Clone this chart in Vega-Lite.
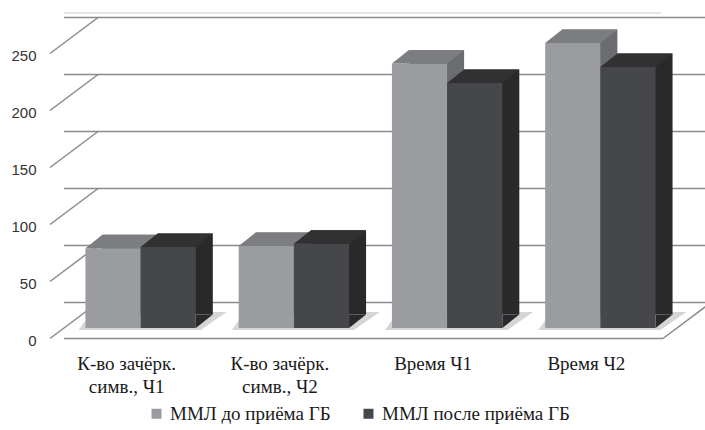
{
  "$schema": "https://vega.github.io/schema/vega-lite/v6.json",
  "width": 613,
  "height": 285,
  "autosize": "none",
  "padding": {"left": 64, "top": 43, "right": 28, "bottom": 102},
  "background": "white",
  "config": {
    "view": {"stroke": null},
    "axis": {"grid": false, "domain": false, "ticks": false, "title": null},
    "axisX": {
      "labelFont": "Times New Roman",
      "labelFontSize": 19,
      "labelColor": "#1a1a1a",
      "labelPadding": 26,
      "labelOffset": -14,
      "labelLineHeight": 23,
      "labelAngle": 0,
      "labelExpr": "split(datum.label, '\\n')"
    },
    "axisY": {
      "labelFont": "Liberation Sans",
      "labelFontSize": 15,
      "labelColor": "#333333",
      "labelPadding": 28,
      "labelOffset": 12
    },
    "legend": {
      "orient": "none",
      "legendX": 83,
      "legendY": 361,
      "direction": "horizontal",
      "title": null,
      "symbolType": "square",
      "symbolSize": 100,
      "symbolStrokeWidth": 0,
      "labelFont": "Liberation Serif",
      "labelFontSize": 19,
      "labelColor": "#1a1a1a",
      "labelLimit": 400,
      "columnPadding": 28
    }
  },
  "datasets": {
    "scores": [
      {"cat": "К-во зачёрк.\nсимв., Ч1", "series": "ММЛ до приёма ГБ", "value": 70},
      {"cat": "К-во зачёрк.\nсимв., Ч1", "series": "ММЛ после приёма ГБ", "value": 71},
      {"cat": "К-во зачёрк.\nсимв., Ч2", "series": "ММЛ до приёма ГБ", "value": 72},
      {"cat": "К-во зачёрк.\nсимв., Ч2", "series": "ММЛ после приёма ГБ", "value": 74},
      {"cat": "Время Ч1", "series": "ММЛ до приёма ГБ", "value": 232},
      {"cat": "Время Ч1", "series": "ММЛ после приёма ГБ", "value": 215},
      {"cat": "Время Ч2", "series": "ММЛ до приёма ГБ", "value": 250},
      {"cat": "Время Ч2", "series": "ММЛ после приёма ГБ", "value": 229}
    ],
    "ticks": [{"v": 0}, {"v": 50}, {"v": 100}, {"v": 150}, {"v": 200}, {"v": 250}]
  },
  "layer": [
    {
      "data": {"name": "ticks"},
      "mark": {"type": "rule", "color": "#8a8a8a", "strokeWidth": 1.5, "xOffset": 34, "x2Offset": 34, "yOffset": -25.5, "y2Offset": -25.5},
      "encoding": {
        "y": {"field": "v", "type": "quantitative", "scale": {"domain": [0, 250], "nice": false}, "title": null, "axis": {"values": [0, 50, 100, 150, 200, 250]}}
      }
    },
    {
      "data": {"name": "ticks"},
      "mark": {"type": "rule", "color": "#8a8a8a", "strokeWidth": 1.5, "xOffset": -14, "x2Offset": 34, "yOffset": 10.5, "y2Offset": -25.5},
      "encoding": {
        "x": {"value": 0},
        "x2": {"value": 0},
        "y": {"field": "v", "type": "quantitative", "scale": {"domain": [0, 250], "nice": false}, "title": null},
        "y2": {"field": "v"}
      }
    },
    {
      "data": {"name": "ticks"},
      "transform": [{"filter": "datum.v === 250"}],
      "mark": {"type": "rule", "color": "#dddddd", "strokeWidth": 1.5, "xOffset": -16, "x2Offset": 34, "yOffset": -30, "y2Offset": -30},
      "encoding": {
        "y": {"field": "v", "type": "quantitative", "scale": {"domain": [0, 250], "nice": false}, "title": null}
      }
    },
    {
      "data": {"name": "ticks"},
      "transform": [{"filter": "datum.v === 0"}],
      "mark": {"type": "rule", "color": "#8a8a8a", "strokeWidth": 1.5, "xOffset": -14, "x2Offset": -14, "yOffset": 10.5, "y2Offset": 10.5},
      "encoding": {
        "y": {"field": "v", "type": "quantitative", "scale": {"domain": [0, 250], "nice": false}, "title": null}
      }
    },
    {
      "data": {"name": "ticks"},
      "transform": [{"filter": "datum.v === 0"}],
      "mark": {"type": "rule", "color": "#8a8a8a", "strokeWidth": 1.5, "xOffset": -14, "x2Offset": 34, "yOffset": 10.5, "y2Offset": -25.5},
      "encoding": {
        "x": {"value": {"expr": "width"}},
        "x2": {"value": {"expr": "width"}},
        "y": {"field": "v", "type": "quantitative", "scale": {"domain": [0, 250], "nice": false}, "title": null},
        "y2": {"field": "v"}
      }
    },
    {
      "data": {"name": "scores"},
      "transform": [{"filter": "datum.series === 'ММЛ до приёма ГБ'"}],
      "mark": {"type": "point", "shape": "M -62 2 L 60 2 L 86 -16 L 72 -16 L 52 -4 L -55 -4 L -55 -8 Z", "size": 4, "filled": true, "opacity": 1, "strokeWidth": 0, "color": "#d5d5d5"},
      "encoding": {
        "x": {"field": "cat", "type": "nominal", "sort": null, "scale": {"paddingInner": 0.28, "paddingOuter": 0.14}, "title": null},
        "y": {"datum": 0, "type": "quantitative", "scale": {"domain": [0, 250], "nice": false}, "title": null}
      }
    },
    {
      "data": {"name": "scores"},
      "transform": [{"filter": "datum.series === 'ММЛ до приёма ГБ'"}],
      "mark": {"type": "bar", "width": {"band": 0.5}, "color": "#6b6c6f", "xOffset": -10.6, "yOffset": -13.5, "y2Offset": -13.5},
      "encoding": {
        "x": {"field": "cat", "type": "nominal", "sort": null, "title": null},
        "y": {"field": "value", "type": "quantitative", "scale": {"domain": [0, 250], "nice": false}, "title": null}
      }
    },
    {
      "data": {"name": "scores"},
      "transform": [{"filter": "datum.series === 'ММЛ до приёма ГБ'"}],
      "mark": {"type": "point", "shape": "M 27.6 0 L 27.6 -13.5 L 44.6 -13.5 Z", "size": 4, "filled": true, "opacity": 1, "strokeWidth": 0, "color": "#6b6c6f", "xOffset": -27.6},
      "encoding": {
        "x": {"field": "cat", "type": "nominal", "sort": null, "title": null},
        "y": {"datum": 0, "type": "quantitative", "scale": {"domain": [0, 250], "nice": false}, "title": null}
      }
    },
    {
      "data": {"name": "scores"},
      "transform": [{"filter": "datum.series === 'ММЛ до приёма ГБ'"}],
      "mark": {"type": "bar", "width": {"band": 0.5}, "xOffset": -27.6},
      "encoding": {
        "x": {"field": "cat", "type": "nominal", "sort": null, "title": null},
        "y": {"field": "value", "type": "quantitative", "scale": {"domain": [0, 250], "nice": false}, "title": null},
        "color": {"field": "series", "type": "nominal", "sort": ["ММЛ до приёма ГБ", "ММЛ после приёма ГБ"], "scale": {"domain": ["ММЛ до приёма ГБ", "ММЛ после приёма ГБ"], "range": ["#9b9c9f", "#46474a"]}, "title": null}
      }
    },
    {
      "data": {"name": "scores"},
      "transform": [{"filter": "datum.series === 'ММЛ до приёма ГБ'"}],
      "mark": {"type": "point", "shape": "M -27.6 0 L 27.6 0 L 44.6 -13.5 L -10.6 -13.5 Z", "size": 4, "filled": true, "opacity": 1, "strokeWidth": 0, "color": "#7c7d80", "xOffset": -27.6},
      "encoding": {
        "x": {"field": "cat", "type": "nominal", "sort": null, "title": null},
        "y": {"field": "value", "type": "quantitative", "scale": {"domain": [0, 250], "nice": false}, "title": null}
      }
    },
    {
      "data": {"name": "scores"},
      "transform": [{"filter": "datum.series === 'ММЛ после приёма ГБ'"}],
      "mark": {"type": "bar", "width": {"band": 0.5}, "color": "#29292a", "xOffset": 44.6, "yOffset": -13.5, "y2Offset": -13.5},
      "encoding": {
        "x": {"field": "cat", "type": "nominal", "sort": null, "title": null},
        "y": {"field": "value", "type": "quantitative", "scale": {"domain": [0, 250], "nice": false}, "title": null}
      }
    },
    {
      "data": {"name": "scores"},
      "transform": [{"filter": "datum.series === 'ММЛ после приёма ГБ'"}],
      "mark": {"type": "point", "shape": "M 27.6 0 L 27.6 -13.5 L 44.6 -13.5 Z", "size": 4, "filled": true, "opacity": 1, "strokeWidth": 0, "color": "#29292a", "xOffset": 27.6},
      "encoding": {
        "x": {"field": "cat", "type": "nominal", "sort": null, "title": null},
        "y": {"datum": 0, "type": "quantitative", "scale": {"domain": [0, 250], "nice": false}, "title": null}
      }
    },
    {
      "data": {"name": "scores"},
      "transform": [{"filter": "datum.series === 'ММЛ после приёма ГБ'"}],
      "mark": {"type": "bar", "width": {"band": 0.5}, "xOffset": 27.6},
      "encoding": {
        "x": {"field": "cat", "type": "nominal", "sort": null, "title": null},
        "y": {"field": "value", "type": "quantitative", "scale": {"domain": [0, 250], "nice": false}, "title": null},
        "color": {"field": "series", "type": "nominal", "sort": ["ММЛ до приёма ГБ", "ММЛ после приёма ГБ"], "scale": {"domain": ["ММЛ до приёма ГБ", "ММЛ после приёма ГБ"], "range": ["#9b9c9f", "#46474a"]}, "title": null}
      }
    },
    {
      "data": {"name": "scores"},
      "transform": [{"filter": "datum.series === 'ММЛ после приёма ГБ'"}],
      "mark": {"type": "point", "shape": "M -27.6 0 L 27.6 0 L 44.6 -13.5 L -10.6 -13.5 Z", "size": 4, "filled": true, "opacity": 1, "strokeWidth": 0, "color": "#313132", "xOffset": 27.6},
      "encoding": {
        "x": {"field": "cat", "type": "nominal", "sort": null, "title": null},
        "y": {"field": "value", "type": "quantitative", "scale": {"domain": [0, 250], "nice": false}, "title": null}
      }
    }
  ]
}
